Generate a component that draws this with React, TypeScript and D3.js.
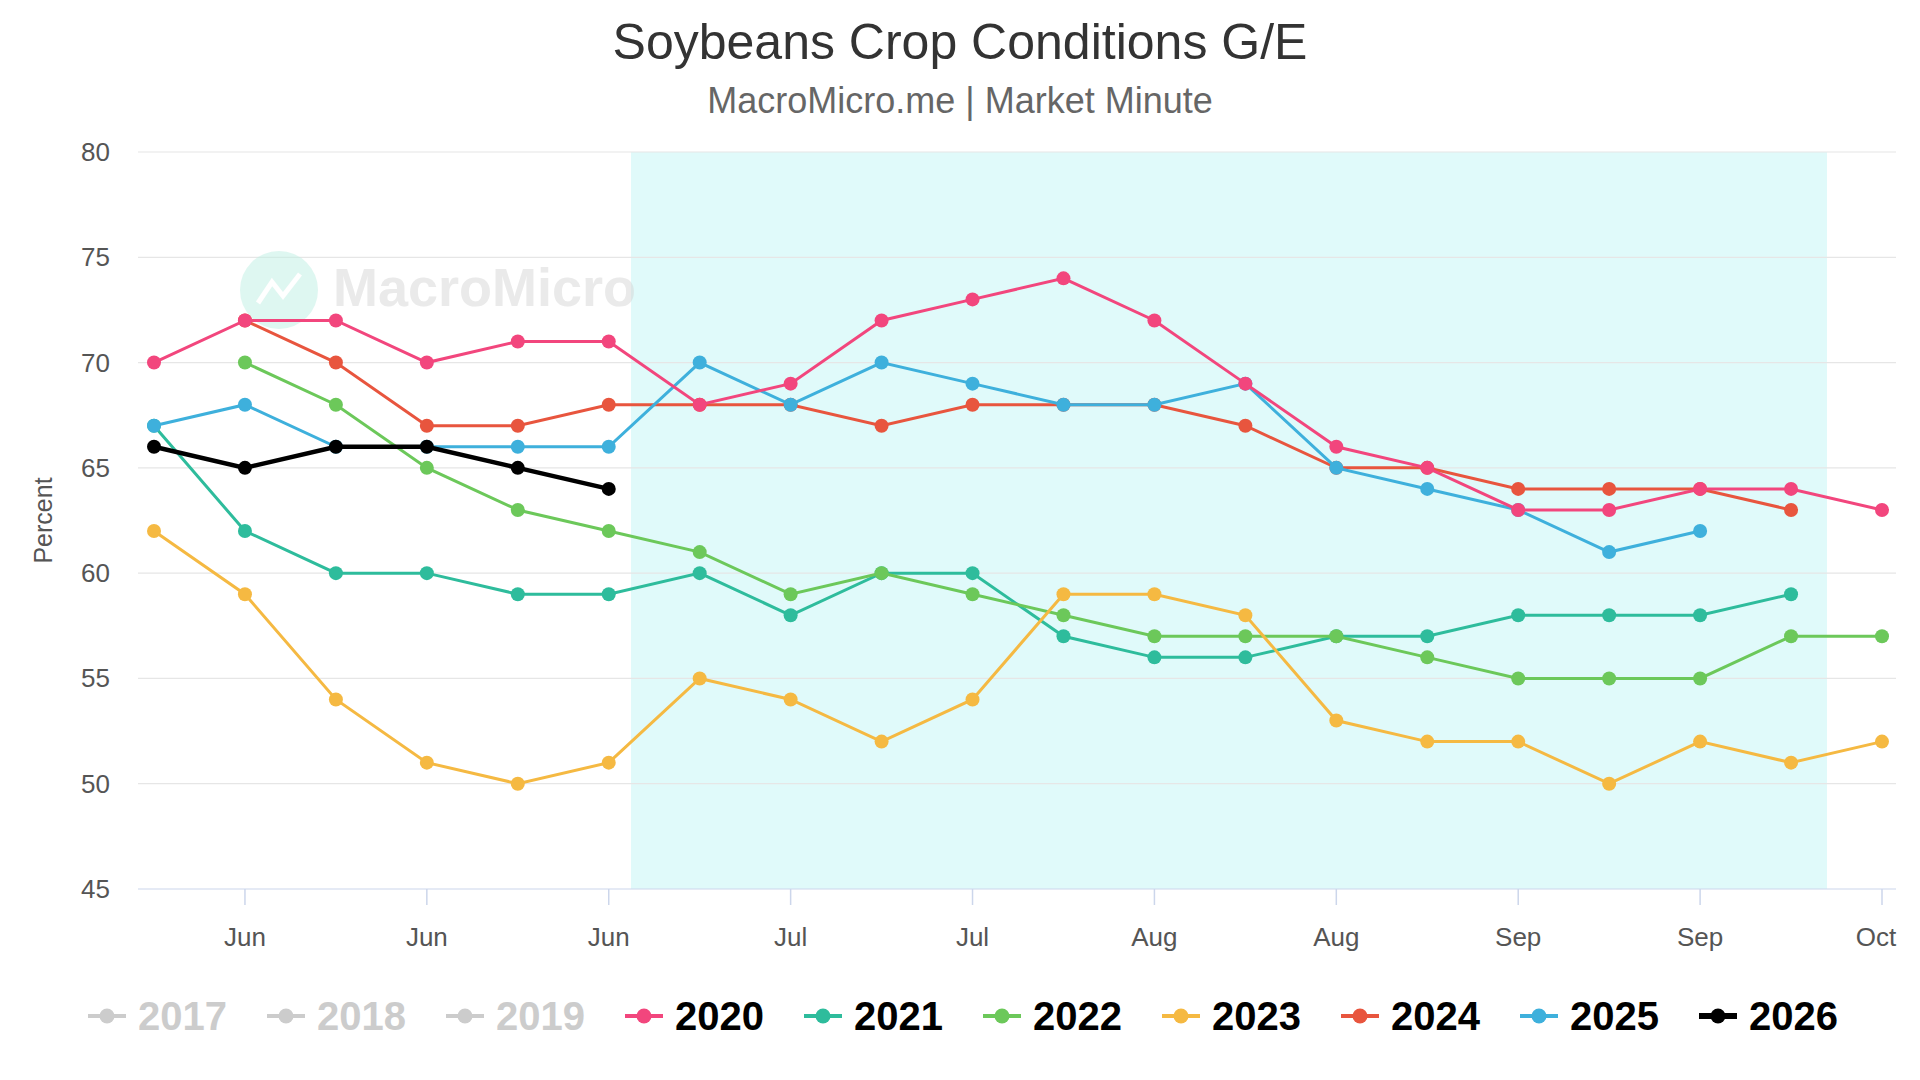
import * as d3 from "d3";

const weeks = d3.range(20);
const tickLabels = ["", "Jun", "", "Jun", "", "Jun", "", "Jul", "", "Jul", "", "Aug", "", "Aug", "", "Sep", "", "Sep", "", "Oct"];

const y2020 = [70, 72, 72, 70, 71, 71, 68, 69, 72, 73, 74, 72, 69, 66, 65, 63, 63, 64, 64, 63];
const y2021 = [67, 62, 60, 60, 59, 59, 60, 58, 60, 60, 57, 56, 56, 57, 57, 58, 58, 58, 59, null];
const y2022 = [null, 70, 68, 65, 63, 62, 61, 59, 60, 59, 58, 57, 57, 57, 56, 55, 55, 55, 57, 57];
const y2023 = [62, 59, 54, 51, 50, 51, 55, 54, 52, 54, 59, 59, 58, 53, 52, 52, 50, 52, 51, 52];
const y2024 = [null, 72, 70, 67, 67, 68, 68, 68, 67, 68, 68, 68, 67, 65, 65, 64, 64, 64, 63, null];
const y2025 = [67, 68, 66, 66, 66, 66, 70, 68, 70, 69, 68, 68, 69, 65, 64, 63, 61, 62, null, null];
const y2026 = [66, 65, 66, 66, 65, 64];

const legendYears = ["2017", "2018", "2019", "2020", "2021", "2022", "2023", "2024", "2025", "2026"];
const legendColors = ["#cccccc", "#cccccc", "#cccccc", "#f2467d", "#2ebc9c", "#6cc85a", "#f5b942", "#e8553e", "#3eb0dc", "#000000"];

const series = [
  { name: "2021", color: "#2ebc9c", values: y2021 },
  { name: "2022", color: "#6cc85a", values: y2022 },
  { name: "2023", color: "#f5b942", values: y2023 },
  { name: "2024", color: "#e8553e", values: y2024 },
  { name: "2025", color: "#3eb0dc", values: y2025 },
  { name: "2020", color: "#f2467d", values: y2020 },
  { name: "2026", color: "#000000", values: y2026 },
];

const W = 1920, H = 1080;
const left = 138, right = 1896, top = 152, bottom = 889;

export default function App() {
  const x = d3.scalePoint<number>().domain(weeks).range([154, 1882]);
  const y = d3.scaleLinear().domain([45, 80]).range([bottom, top]);
  const yTicks = d3.range(45, 81, 5);
  const font = "'Helvetica Neue', 'Liberation Sans', Arial, sans-serif";
  return (
    <svg width={W} height={H} style={{ display: "block", margin: -8 }} fontFamily={font}>
      <rect width={W} height={H} fill="#fff" />
      <rect x={631} y={top} width={1827 - 631} height={bottom - top} fill="#e0fafa" />
      {yTicks.map((t) => (
        <g key={t}>
          <line x1={left} x2={right} y1={y(t)} y2={y(t)} stroke={t === 45 ? "#ccd6eb" : "#e6e6e6"} strokeWidth={1.2} />
          <text x={110} y={y(t) + 9} textAnchor="end" fontSize={26} fill="#555">{t}</text>
        </g>
      ))}
      {weeks.map((w) =>
        tickLabels[w] ? (
          <g key={w}>
            <line x1={x(w)} x2={x(w)} y1={bottom} y2={bottom + 16} stroke="#ccd6eb" strokeWidth={1.5} />
            <text x={w === 19 ? x(w)! - 6 : x(w)} y={946} textAnchor="middle" fontSize={26} fill="#555">{tickLabels[w]}</text>
          </g>
        ) : null
      )}
      <text transform={`translate(52,${(top + bottom) / 2}) rotate(-90)`} textAnchor="middle" fontSize={25} fill="#555">Percent</text>
      <text x={W / 2} y={59} textAnchor="middle" fontSize={50} fill="#333">Soybeans Crop Conditions G/E</text>
      <text x={W / 2} y={113} textAnchor="middle" fontSize={36} fill="#666">MacroMicro.me | Market Minute</text>
      <g opacity={0.5}>
        <circle cx={279} cy={290} r={39} fill="#bff0e4" />
        <path d="M258,303 L272,282 L283,296 L300,274" stroke="#fff" strokeWidth={5} fill="none" />
        <text x={333} y={306} fontSize={54} fontWeight={700} fill="#d6d6d6">MacroMicro</text>
      </g>
      {series.map((s) => {
        const pts = s.values.map((v, i) => [i, v] as [number, number | null]).filter((p) => p[1] != null) as [number, number][];
        const line = d3.line<[number, number]>().x((p) => x(p[0])!).y((p) => y(p[1]));
        const isBlack = s.name === "2026";
        return (
          <g key={s.name}>
            <path d={line(pts)!} fill="none" stroke={s.color} strokeWidth={isBlack ? 4.5 : 3} />
            {pts.map((p) => (
              <circle key={p[0]} cx={x(p[0])} cy={y(p[1])} r={7} fill={s.color} />
            ))}
          </g>
        );
      })}
      {legendYears.map((yr, i) => {
        const lx = 88 + i * 179;
        const ly = 1016;
        return (
          <g key={yr}>
            <line x1={lx} x2={lx + 38} y1={ly} y2={ly} stroke={legendColors[i]} strokeWidth={yr === "2026" ? 6 : 4} />
            <circle cx={lx + 19} cy={ly} r={7.5} fill={legendColors[i]} />
            <text x={lx + 50} y={ly + 14} fontSize={40} fontWeight={600} fill={i < 3 ? "#cccccc" : "#000"}>{yr}</text>
          </g>
        );
      })}
    </svg>
  );
}
